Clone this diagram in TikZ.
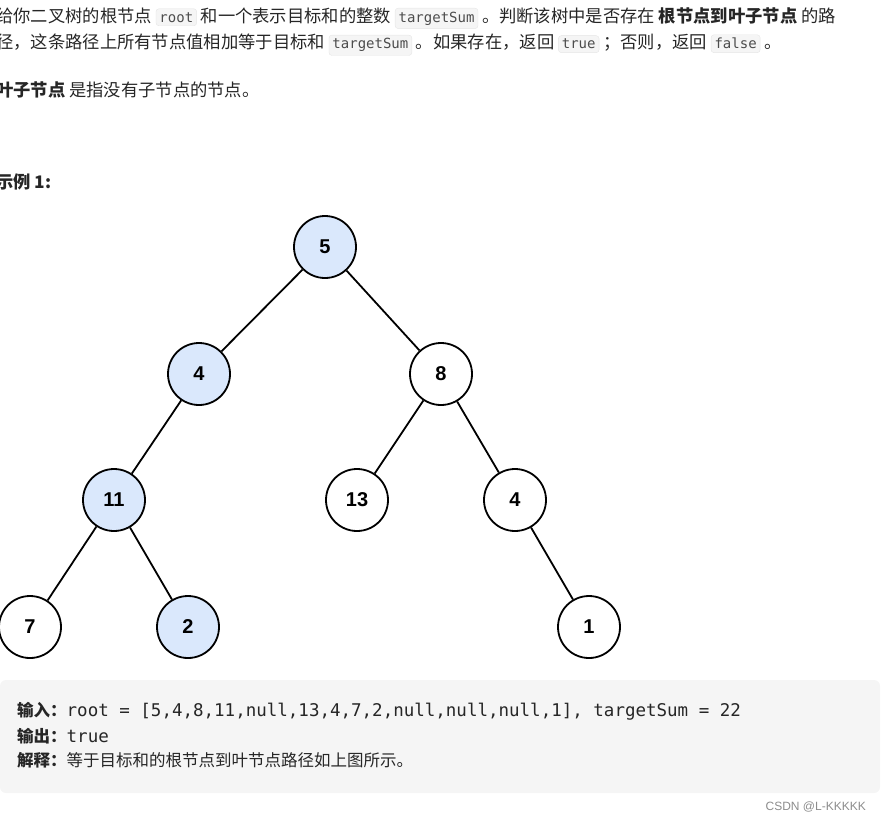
\documentclass[tikz,border=0pt]{standalone}
\usepackage{fontspec}
\setmainfont{Noto Sans CJK SC}
\setmonofont{DejaVu Sans Mono}
\newfontfamily\treefont{Liberation Sans}
\definecolor{hl}{HTML}{DAE8FC}
\definecolor{codebg}{HTML}{F5F5F5}
\definecolor{txt}{HTML}{262626}
\newcommand{\cd}[1]{\tikz[baseline=(c.base)]\node[draw=black!10,fill=codebg,rounded corners=3pt,inner sep=3.5pt,font=\ttfamily\fontsize{14}{15}\selectfont,text=black!70](c){#1};}
\newcommand{\bb}[1]{{\bfseries #1}}
\begin{document}
\begin{tikzpicture}[x=1pt,y=-1pt,
  tn/.style={circle,draw,line width=1.8pt,minimum size=62pt,inner sep=0pt,font=\treefont\bfseries\fontsize{20}{20}\selectfont,fill=white},
  hn/.style={tn,fill=hl},
  ed/.style={line width=1.8pt},
  para/.style={anchor=west,inner sep=0pt,font=\fontsize{17.3}{18}\selectfont,text=txt}]
\useasboundingbox (0,0) rectangle (882,822);
\node[para] (l1) at (-4,18) {给你二叉树的根节点 \cd{root} 和一个表示目标和的整数 \cd{targetSum} 。判断该树中是否存在 \bb{根节点到叶子节点} 的路};
\node[para] (l2) at (-4,45) {径，这条路径上所有节点值相加等于目标和 \cd{targetSum} 。如果存在，返回 \cd{true} ；否则，返回 \cd{false} 。};
\node[para] (l3) at (-4,90) {\bb{叶子节点} 是指没有子节点的节点。};
\node[para] (l4) at (-4,182) {\bb{示例 1:}};
\node[hn] (a) at (325,247) {5};
\node[hn] (b) at (199,374) {4};
\node[tn] (c) at (441,374) {8};
\node[hn] (d) at (114,500) {11};
\node[tn] (e) at (357,500) {13};
\node[tn] (f) at (515,500) {4};
\node[tn] (g) at (30,627) {7};
\node[hn] (h) at (188,627) {2};
\node[tn] (i) at (589,627) {1};
\draw[ed] (a)--(b) (a)--(c) (b)--(d) (c)--(e) (c)--(f) (d)--(g) (d)--(h) (f)--(i);
\fill[codebg,rounded corners=6pt] (0,680) rectangle (880,793);
\node[para,font=\fontsize{16.5}{18}\selectfont] (o1) at (17,711) {\bb{输入：}\fontsize{17.5}{18}\ttfamily root = [5,4,8,11,null,13,4,7,2,null,null,null,1], targetSum = 22};
\node[para,font=\fontsize{16.5}{18}\selectfont] (o2) at (17,736) {\bb{输出：}\fontsize{17.5}{18}\ttfamily true};
\node[para,font=\fontsize{16.5}{18}\selectfont] (o3) at (17,760) {\bb{解释：}等于目标和的根节点到叶节点路径如上图所示。};
\node[anchor=east,inner sep=0pt,font=\treefont\fontsize{12}{12}\selectfont,text=black!45] (w) at (866,807) {CSDN @L-KKKKK};
\end{tikzpicture}
\end{document}
